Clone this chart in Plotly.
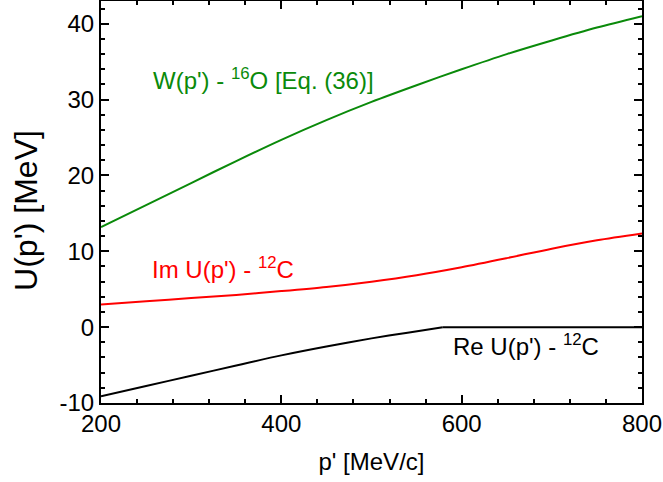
import plotly.graph_objects as go

# W(p') - 16O [Eq. (36)]
p_w = [200, 250, 300, 350, 400, 450, 500, 550, 600, 650, 700, 750, 800]
w_vals = [13.2, 16.1, 19.0, 21.9, 24.7, 27.3, 29.7, 31.9, 34.0, 36.0, 37.8, 39.5, 41.0]

# Im U(p') - 12C
p_im = [200, 250, 300, 350, 400, 450, 500, 550, 600, 650, 700, 750, 800]
im_vals = [3.0, 3.4, 3.85, 4.25, 4.75, 5.3, 6.0, 6.85, 7.9, 9.1, 10.35, 11.45, 12.35]

# Re U(p') - 12C (curved part up to the kink, then flat)
p_re = [200, 250, 300, 350, 400, 450, 500, 540, 579, 800]
re_vals = [-9.1, -7.75, -6.42, -5.05, -3.72, -2.55, -1.48, -0.73, 0.0, 0.0]
re_kink = 8  # index of the kink point

x_ticks = [200, 400, 600, 800]
y_ticks = [-10, 0, 10, 20, 30, 40]
y_ticktext = ["-10", "0", "10", "20", "30", "40"]

FONT = "Liberation Sans, Arial, sans-serif"
GREEN = "#0a8a0a"

fig = go.Figure()
fig.add_trace(go.Scatter(x=p_w, y=w_vals, mode="lines", line=dict(color=GREEN, width=2, shape="spline", smoothing=0.8)))
fig.add_trace(go.Scatter(x=p_im, y=im_vals, mode="lines", line=dict(color="#ff0000", width=2, shape="spline", smoothing=0.8)))
fig.add_trace(go.Scatter(x=p_re[:re_kink + 1], y=re_vals[:re_kink + 1], mode="lines",
                         line=dict(color="#000000", width=2, shape="spline", smoothing=0.8)))
fig.add_trace(go.Scatter(x=p_re[re_kink:], y=re_vals[re_kink:], mode="lines",
                         line=dict(color="#000000", width=2)))

fig.add_annotation(x=255.3, y=32.7, xref="x", yref="y", xanchor="left", yanchor="middle",
                   text="W(p') - <sup>16</sup>O [Eq. (36)]", showarrow=False,
                   font=dict(family=FONT, size=24, color=GREEN))
fig.add_annotation(x=253.9, y=7.75, xref="x", yref="y", xanchor="left", yanchor="middle",
                   text="Im U(p') - <sup>12</sup>C", showarrow=False,
                   font=dict(family=FONT, size=24, color="#ff0000"))
fig.add_annotation(x=588, y=-2.34, xref="x", yref="y", xanchor="left", yanchor="middle",
                   text="Re U(p') - <sup>12</sup>C", showarrow=False,
                   font=dict(family=FONT, size=24, color="#000000"))
# y-axis title
fig.add_annotation(x=-0.1385, y=0.478, xref="paper", yref="paper", xanchor="center", yanchor="middle",
                   text="U(p') [MeV]", textangle=-90, showarrow=False,
                   font=dict(family=FONT, size=32, color="black"))

axis_common = dict(showline=True, linecolor="black", linewidth=2, mirror="allticks",
                   ticks="inside", ticklen=8, tickwidth=1.5, tickcolor="black",
                   showgrid=False, zeroline=False, automargin=False,
                   tickfont=dict(family=FONT, size=24, color="black"))

fig.update_xaxes(range=[200, 800], tickvals=x_ticks, ticktext=[str(v) for v in x_ticks],
                 minor=dict(ticks="inside", ticklen=4, tickwidth=1.5, tickcolor="black", dtick=40, tick0=200),
                 title=dict(text="p' [MeV/c]", font=dict(family=FONT, size=24, color="black"), standoff=17),
                 ticklabelstandoff=-2,
                 **axis_common)
fig.update_yaxes(range=[-10, 43], tickvals=y_ticks, ticktext=y_ticktext,
                 minor=dict(ticks="inside", ticklen=4, tickwidth=1.5, tickcolor="black", dtick=2, tick0=0),
                 **axis_common)

fig.update_layout(width=663, height=482, showlegend=False,
                  plot_bgcolor="white", paper_bgcolor="white",
                  margin=dict(l=101, r=21, t=1, b=79))

fig.write_html("out.html", config={"displayModeBar": False},
               post_script="document.body.style.margin='0';document.body.style.overflow='hidden';")
